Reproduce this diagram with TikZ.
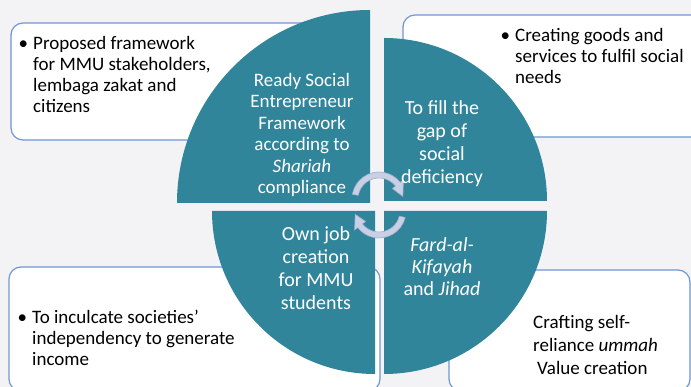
\documentclass[tikz,border=0pt]{standalone}
\usepackage{fontspec}
\setmainfont{Carlito}
\usetikzlibrary{calc}
\definecolor{pagebg}{RGB}{243,243,245}
\definecolor{quadfill}{RGB}{49,133,155}
\definecolor{boxline}{RGB}{112,150,212}
\definecolor{arrowfill}{RGB}{201,208,229}
\definecolor{arrowline}{RGB}{160,172,206}
\begin{document}
\begin{tikzpicture}[x=1pt,y=1pt,
  quad/.style={fill=quadfill},
  infobox/.style={draw=boxline, fill=white, line width=1.2pt, rounded corners=12pt},
  quadtext/.style={text=white, align=center, inner sep=0pt},
  boxtext/.style={text=black, align=left, anchor=west, inner sep=0pt,
    font=\fontsize{19}{21}\selectfont},
  cyclearrow/.style={fill=arrowfill, draw=arrowline, line width=0.6pt, line join=round}]

\useasboundingbox (0,0) rectangle (691,387);
\fill[pagebg] (0,0) rectangle (691,387);
\clip (0,0) rectangle (691,387);

% text boxes behind the matrix
\draw[infobox] (11,247) rectangle (360,364);
\draw[infobox] (403,250) rectangle (730,372);
\draw[infobox] (9,-4) rectangle (380,120);
\draw[infobox] (449,-4) rectangle (690,117);

% the four quadrants
\coordinate (ctl) at (370,184);
\coordinate (ctr) at (384,186);
\coordinate (cbl) at (375,176);
\coordinate (cbr) at (384,176);
\fill[quad] (ctl) -- ++(180:193) arc[start angle=180, end angle=90, radius=193] -- cycle;
\fill[quad] (ctr) -- ++(90:163) arc[start angle=90, end angle=0, radius=163] -- cycle;
\fill[quad] (cbl) -- ++(180:163) arc[start angle=180, end angle=270, radius=163] -- cycle;
\fill[quad] (cbr) -- ++(270:163) arc[start angle=270, end angle=360, radius=163] -- cycle;

% circular arrows in the middle
\coordinate (atop) at (379,188);
\coordinate (abot) at (379,176);
\draw[cyclearrow] ($(atop)+(170:27)$) arc[start angle=170, end angle=38, radius=27]
  -- ($(atop)+(38:31)$) -- ($(atop)+(6:24)$) -- ($(atop)+(38:17)$)
  -- ($(atop)+(38:21)$) arc[start angle=38, end angle=170, radius=21] -- cycle;
\draw[cyclearrow] ($(abot)+(-14:27)$) arc[start angle=-14, end angle=-142, radius=27]
  -- ($(abot)+(-142:31)$) -- ($(abot)+(-172:24)$) -- ($(abot)+(-142:17)$)
  -- ($(abot)+(-142:21)$) arc[start angle=-142, end angle=-14, radius=21] -- cycle;

% quadrant labels
\node[quadtext, font=\fontsize{19}{21.5}\selectfont] (qtl) at (302,252)
  {Ready Social\\Entrepreneur\\Framework\\according to\\\textit{Shariah}\\compliance};
\node[quadtext, font=\fontsize{20}{23}\selectfont] (qtr) at (442,243)
  {To fill the\\gap of\\social\\deficiency};
\node[quadtext, font=\fontsize{20}{23}\selectfont] (qbl) at (316,119)
  {Own job\\creation\\for MMU\\students};
\node[quadtext, font=\fontsize{20}{22}\selectfont] (qbr) at (442,120)
  {\textit{Fard-al-}\\\textit{Kifayah}\\and \textit{Jihad}};

% box texts
\node[boxtext] (t1) at (33,313)
  {\leavevmode\llap{•\hspace{5pt}}Proposed framework\\for MMU stakeholders,\\lembaga zakat and\\citizens};
\node[boxtext] (t2) at (515,331)
  {\leavevmode\llap{•\hspace{5pt}}Creating goods and\\services to fulfil social\\needs};
\node[boxtext] (t3) at (32,49)
  {\leavevmode\llap{•\hspace{5pt}}To inculcate societies’\\independency to generate\\income};
\node[boxtext, font=\fontsize{19}{23}\selectfont] (t4) at (533,42)
  {Crafting self-\\reliance \textit{ummah}\\\hspace*{4pt}Value creation};
\end{tikzpicture}
\end{document}
